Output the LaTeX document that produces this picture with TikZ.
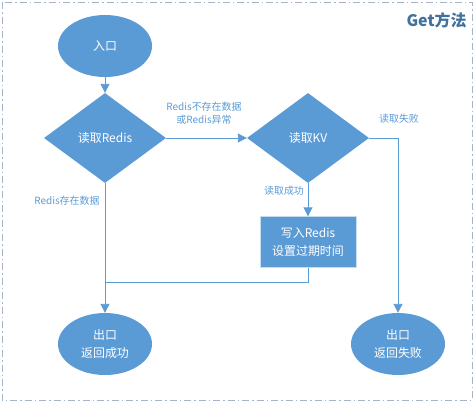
\documentclass[tikz,border=0pt]{standalone}
\usepackage{fontspec}
\setmainfont{Noto Sans CJK SC}
\usepackage{tikz}
\usetikzlibrary{shapes.geometric,arrows.meta,positioning}
\definecolor{flowblue}{HTML}{5B9BD5}
\definecolor{titleblue}{HTML}{41719C}
\definecolor{framegray}{HTML}{A5B4C6}
\tikzstyle{terminal} = [ellipse, fill=flowblue, text=white, minimum width=94bp, minimum height=62bp,
    inner sep=0pt, align=center, font=\fontsize{12}{17.5}\selectfont]
\tikzstyle{decision} = [diamond, fill=flowblue, text=white, minimum width=122bp, minimum height=90bp,
    inner sep=0pt, font=\fontsize{12}{17.5}\selectfont]
\tikzstyle{process} = [rectangle, fill=flowblue, draw=flowblue!35, text=white, minimum width=96bp,
    minimum height=51bp, inner sep=0pt, align=center, font=\fontsize{12}{18}\selectfont]
\tikzstyle{note} = [text=flowblue, align=center, inner sep=0pt, font=\fontsize{10}{13.5}\selectfont]
\tikzstyle{arrow} = [draw=flowblue, line width=0.9bp, -{Triangle[width=9bp,length=9bp]}]
\tikzstyle{link} = [draw=flowblue, line width=0.9bp]

\begin{document}
\begin{tikzpicture}[x=1bp, y=-1bp]
\useasboundingbox (0,0) rectangle (476,403);
\draw[framegray, line width=1bp, dash pattern=on 7bp off 3bp on 1.5bp off 3bp] (2,2) rectangle (472,400);
\node[anchor=east, text=titleblue, font=\fontsize{16}{18}\bfseries] (title) at (470,20) {Get方法};

\node[terminal] (entry) at (105,46) {入口};
\node[decision] (redis) at (105,138) {读取Redis};
\node[decision] (kv) at (308,138) {读取KV};
\node[process] (write) at (308,242) {写入Redis\\设置过期时间};
\node[terminal] (ok) at (105,344) {出口\\返回成功};
\node[terminal] (fail) at (398,344) {出口\\返回失败};
\coordinate (join) at (105,282);

\node[note] (missnote) at (204,113) {Redis不存在数据\\或Redis异常};
\node[note] (failnote) at (399,119) {读取失败};
\node[note] (hitnote) at (67,201) {Redis存在数据};
\node[note] (readnote) at (284,191) {读取成功};

\draw[arrow] (entry) -- (redis);
\draw[arrow] (redis.east) -- (kv.west);
\draw[arrow] (kv.east) -| (fail.north);
\draw[arrow] (kv.south) -- (write.north);
\draw[arrow] (redis.south) -- (ok.north);
\draw[link] (write.south) |- (join);
\end{tikzpicture}
\end{document}
